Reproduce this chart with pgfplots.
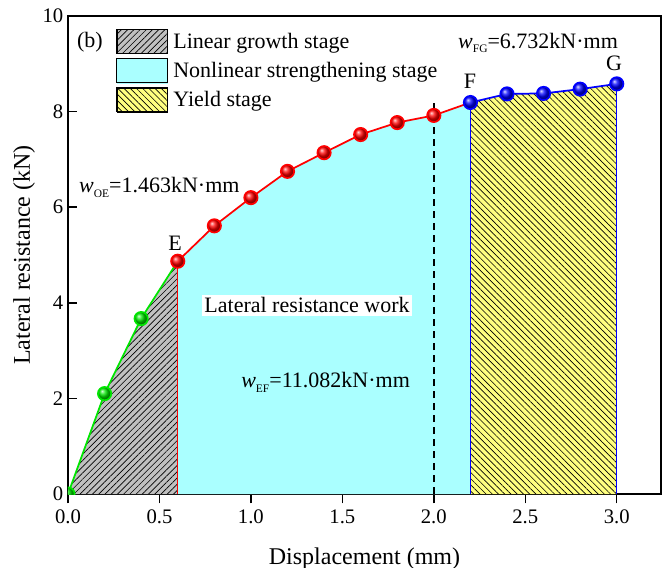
\documentclass[border=0pt]{standalone}
\usepackage{fontspec}
\setmainfont{Liberation Serif}
\usepackage{pgfplots}
\pgfplotsset{compat=1.18}
\usetikzlibrary{patterns.meta}

\definecolor{stagegray}{RGB}{192,192,192}
\definecolor{stagecyan}{RGB}{170,255,255}
\definecolor{stageyellow}{RGB}{255,255,128}
\definecolor{curvegreen}{RGB}{0,230,0}
\definecolor{curvered}{RGB}{255,0,0}
\definecolor{curveblue}{RGB}{0,0,255}

% italic w with a small upright subscript
\newcommand{\wsub}[1]{\textit{w}\raisebox{-0.45ex}{\fontsize{8.6}{9}\selectfont #1}}

\tikzset{
  hatchNE/.style={pattern={Lines[angle=45,distance=3.3pt,line width=0.5pt]},pattern color=black},
  hatchNW/.style={pattern={Lines[angle=-45,distance=3.3pt,line width=0.5pt]},pattern color=black},
  annot/.style={font=\fontsize{16.5}{19}\selectfont, inner sep=0pt},
}

\begin{document}
\begin{tikzpicture}
\useasboundingbox (-51pt,-55.5pt) rectangle (447.75pt,370.5pt);
\begin{axis}[
  scale only axis, width=444.75pt, height=358.5pt,
  xmin=0, xmax=3.242, ymin=0, ymax=10,
  xtick={0,0.5,1,1.5,2,2.5,3}, ytick={0,2,4,6,8,10},
  xticklabels={0.0,0.5,1.0,1.5,2.0,2.5,3.0},
  yticklabels={0,2,4,6,8,10},
  tick pos=left, xtick align=outside, ytick align=inside,
  major tick length=7pt,
  axis line style={line width=1.2pt},
  tick style={line width=1.1pt, black},
  tick label style={font=\fontsize{15.5}{18}\selectfont},
  xticklabel style={yshift=-1.5pt},
  xlabel={Displacement (mm)}, ylabel={Lateral resistance (kN)},
  every axis x label/.style={at={(axis description cs:0.5,-0.148)}, anchor=base, font=\fontsize{18}{21}\selectfont},
  every axis y label/.style={at={(axis description cs:-0.0742,0.5)}, anchor=center, rotate=90, font=\fontsize{18}{21}\selectfont},
  clip marker paths=true,
  legend cell align=left,
  legend style={draw=none, fill=none, at={(axis description cs:0.081,0.973)}, anchor=north west,
    inner sep=0pt, row sep=3pt, font=\fontsize{16.5}{19}\selectfont, nodes={inner sep=0pt},
    /tikz/every odd column/.append style={column sep=4pt}},
]
% stage areas under the curve
\addplot[draw=none, fill=stagegray, forget plot] coordinates {(0,0) (0.2,2.10) (0.4,3.67) (0.6,4.87)} \closedcycle;
\addplot[draw=none, hatchNE, forget plot] coordinates {(0,0) (0.2,2.10) (0.4,3.67) (0.6,4.87)} \closedcycle;
\addplot[draw=none, fill=stagecyan, forget plot] coordinates {(0.6,4.87) (0.8,5.61) (1.0,6.20) (1.2,6.75) (1.4,7.14) (1.6,7.52) (1.8,7.77) (2.0,7.92) (2.2,8.19)} \closedcycle;
\addplot[draw=none, fill=stageyellow, forget plot] coordinates {(2.2,8.19) (2.4,8.37) (2.6,8.38) (2.8,8.47) (3.0,8.58)} \closedcycle;
\addplot[draw=none, hatchNW, forget plot] coordinates {(2.2,8.19) (2.4,8.37) (2.6,8.38) (2.8,8.47) (3.0,8.58)} \closedcycle;

% stage boundaries
\addplot[curvered, line width=1pt, forget plot] coordinates {(0.6,0) (0.6,4.87)};
\addplot[curveblue, line width=1pt, forget plot] coordinates {(2.2,0) (2.2,8.19)};
\addplot[curveblue, line width=1pt, forget plot] coordinates {(3.0,0) (3.0,8.58)};
\addplot[black, line width=1.9pt, dash pattern=on 5.5pt off 3.5pt, forget plot] coordinates {(2.0,0) (2.0,8.2)};

% load-displacement curve
\addplot[curvegreen, line width=1.3pt, mark=ball, mark size=5pt, mark options={ball color=curvegreen}, mark indices={1,2,3}, forget plot]
  coordinates {(0,0) (0.2,2.10) (0.4,3.67) (0.6,4.87)};
\addplot[curvered, line width=1.3pt, mark=ball, mark size=5pt, mark options={ball color=curvered}, mark indices={1,2,3,4,5,6,7,8}, forget plot]
  coordinates {(0.6,4.87) (0.8,5.61) (1.0,6.20) (1.2,6.75) (1.4,7.14) (1.6,7.52) (1.8,7.77) (2.0,7.92) (2.2,8.19)};
\addplot[curveblue, line width=1.3pt, mark=ball, mark size=5pt, mark options={ball color=curveblue}, forget plot]
  coordinates {(2.2,8.19) (2.4,8.37) (2.6,8.38) (2.8,8.47) (3.0,8.58)};

% legend
\addlegendimage{legend image code/.code={
  \fill[stagegray] (0pt,-9pt) rectangle (38pt,9pt);
  \fill[hatchNE] (0pt,-9pt) rectangle (38pt,9pt);
  \draw[black, line width=0.8pt] (0pt,-9pt) rectangle (38pt,9pt);}}
\addlegendentry{Linear growth stage}
\addlegendimage{legend image code/.code={
  \fill[stagecyan] (0pt,-9pt) rectangle (38pt,9pt);
  \draw[black, line width=0.8pt] (0pt,-9pt) rectangle (38pt,9pt);}}
\addlegendentry{Nonlinear strengthening stage}
\addlegendimage{legend image code/.code={
  \fill[stageyellow] (0pt,-9pt) rectangle (38pt,9pt);
  \fill[hatchNW] (0pt,-9pt) rectangle (38pt,9pt);
  \draw[black, line width=0.8pt] (0pt,-9pt) rectangle (38pt,9pt);}}
\addlegendentry{Yield stage}

% labels
\node[annot, anchor=center] at (axis cs:0.12,9.46) {(b)};
\node[annot, anchor=base west] at (axis cs:0.06,6.30) {\wsub{OE}=1.463kN·mm};
\node[annot, anchor=base] at (axis cs:0.585,5.10) {E};
\node[annot, anchor=center, fill=white, inner sep=2pt] at (axis cs:1.307,3.95) {Lateral resistance work};
\node[annot, anchor=base west] at (axis cs:0.946,2.22) {\wsub{EF}=11.082kN·mm};
\node[annot, anchor=base] at (axis cs:2.198,8.49) {F};
\node[annot, anchor=base west] at (axis cs:2.132,9.33) {\wsub{FG}=6.732kN·mm};
\node[annot, anchor=base] at (axis cs:2.985,8.87) {G};
\end{axis}
\end{tikzpicture}
\end{document}
